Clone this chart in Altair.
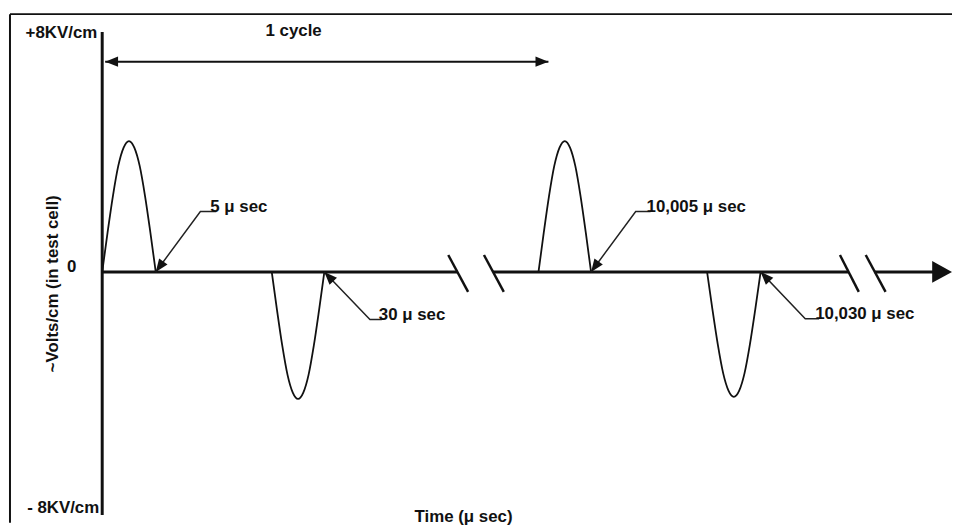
import altair as alt
import pandas as pd

# ---------------- data (x: position along the schematic time axis, y: kV/cm) ----------------
pulse_id = ["p1", "p2", "p3", "p4"]
pulse_start = [0, 171, 440, 610]
pulse_end = [54, 224, 493, 664]
pulse_peak = [4.4, -4.27, 4.4, -4.2]
# outline of one pulse (fraction of width -> fraction of peak)
profile_pos = [0, 0.1, 0.2, 0.3, 0.4, 0.5, 0.6, 0.7, 0.8, 0.9, 1.0]
profile_val = [0, 0.30, 0.58, 0.81, 0.95, 1.0, 0.95, 0.81, 0.58, 0.30, 0]

ylab_text = ["+8KV/cm", "0", "- 8KV/cm"]
ylab_x = [-5, -26, -3]
ylab_y = [8.03, 0.15, -7.93]

ann_text = ["5 \u03bc sec", "30 \u03bc sec", "10,005 \u03bc sec", "10,030 \u03bc sec"]
ann_tip_x = [54, 224, 493, 664]
ann_elbow_x = [99, 270, 538, 709]
ann_end_x = [115, 282, 553, 723]
ann_y = [2.03, -1.6, 2.03, -1.57]
ann_text_x = [109, 279, 549, 719]
ann_angle = [216, 316, 216, 316]

axis_seg_x = [0, 394, 779]
axis_seg_x2 = [358, 753, 840]
brk_x = [349, 385, 744, 770]
brk_x2 = [369, 405, 763, 790]
brk_y = [0.57, 0.57, 0.57, 0.57]
brk_y2 = [-0.67, -0.67, -0.67, -0.67]

cycle_x = [3, 450]
cycle_y = 7.07
cycle_label = "1 cycle"
cycle_label_x = 193
cycle_label_y = 8.1

frame_left = -93
frame_top = 8.667
y_bottom = -8.4333
yaxis_top = 8.07
yaxis_bottom = -8.167

xlabel = "Time (\u03bc sec)"
ylabel = "~Volts/cm (in test cell)"

# ---------------- tables ----------------
rows = []
for pid, s, e, pk in zip(pulse_id, pulse_start, pulse_end, pulse_peak):
    for i, (fp, fv) in enumerate(zip(profile_pos, profile_val)):
        rows.append({"id": pid, "o": i, "x": s + fp * (e - s), "y": fv * pk})
pulses = pd.DataFrame(rows)

rules = []
rules.append({"x": frame_left, "x2": 857, "y": frame_top, "y2": frame_top, "w": 2})
rules.append({"x": frame_left, "x2": frame_left, "y": frame_top, "y2": y_bottom, "w": 2})
rules.append({"x": 0, "x2": 0, "y": yaxis_top, "y2": yaxis_bottom, "w": 3})
for a, b in zip(axis_seg_x, axis_seg_x2):
    rules.append({"x": a, "x2": b, "y": 0, "y2": 0, "w": 3})
for a, b, c, d in zip(brk_x, brk_x2, brk_y, brk_y2):
    rules.append({"x": a, "x2": b, "y": c, "y2": d, "w": 2.5})
rules.append({"x": cycle_x[0], "x2": cycle_x[1], "y": cycle_y, "y2": cycle_y, "w": 2})
rules = pd.DataFrame(rules)

lead = []
for k, (t, el, en, yy) in enumerate(zip(ann_tip_x, ann_elbow_x, ann_end_x, ann_y)):
    lead += [{"id": k, "o": 0, "x": t, "y": 0}, {"id": k, "o": 1, "x": el, "y": yy},
             {"id": k, "o": 2, "x": en, "y": yy}]
lead = pd.DataFrame(lead)

heads = pd.DataFrame(
    [{"x": t, "y": 0, "a": a} for t, a in zip(ann_tip_x, ann_angle)]
    + [{"x": cycle_x[0], "y": cycle_y, "a": 270}, {"x": cycle_x[1], "y": cycle_y, "a": 90}]
)
bighead = pd.DataFrame([{"x": 857, "y": 0, "a": 90}])

labels = pd.DataFrame({"x": ylab_x, "y": ylab_y, "t": ylab_text})
ann = pd.DataFrame({"x": ann_text_x, "y": ann_y, "t": ann_text})
cyc = pd.DataFrame({"x": [cycle_label_x], "y": [cycle_label_y], "t": [cycle_label]})
xl = pd.DataFrame({"x": [315], "y": [-8.233], "t": [xlabel]})
yl = pd.DataFrame({"x": [-50], "y": [-0.4], "t": [ylabel]})

X = alt.X("x:Q", scale=alt.Scale(domain=[-95, 857], nice=False, zero=False), axis=None)
Y = alt.Y("y:Q", scale=alt.Scale(domain=[y_bottom, 8.8], nice=False, zero=False), axis=None)
FONT = "Liberation Sans"
INK = "#111111"

l_rules = alt.Chart(rules).mark_rule(color=INK).encode(
    x=X, y=Y, x2="x2:Q", y2="y2:Q", strokeWidth=alt.StrokeWidth("w:Q", scale=None))
l_pulses = alt.Chart(pulses).mark_line(color=INK, strokeWidth=1.8, interpolate="monotone").encode(
    x=X, y=Y, detail="id:N", order="o:Q")
l_lead = alt.Chart(lead).mark_line(color="#222222", strokeWidth=1.5).encode(
    x=X, y=Y, detail="id:N", order="o:Q")
l_heads = alt.Chart(heads).mark_point(
    shape="M0,0L-0.4,1L0.4,1Z", size=676, filled=True, color=INK, opacity=1, strokeWidth=0
).encode(x=X, y=Y, angle=alt.Angle("a:Q", scale=None))
l_big = alt.Chart(bighead).mark_point(
    shape="M0,0L-1.1,2L1.1,2Z", size=400, filled=True, color=INK, opacity=1, strokeWidth=0
).encode(x=X, y=Y, angle=alt.Angle("a:Q", scale=None))

txt = dict(font=FONT, fontSize=17, fontWeight="bold", color=INK)
l_ylabs = alt.Chart(labels).mark_text(align="right", baseline="middle", **txt).encode(x=X, y=Y, text="t:N")
l_ann = alt.Chart(ann).mark_text(align="left", baseline="alphabetic", **txt).encode(x=X, y=Y, text="t:N")
l_cyc = alt.Chart(cyc).mark_text(align="center", baseline="middle", **txt).encode(x=X, y=Y, text="t:N")
l_xl = alt.Chart(xl).mark_text(align="left", baseline="middle", **txt).encode(x=X, y=Y, text="t:N")
l_yl = alt.Chart(yl).mark_text(align="center", baseline="middle", angle=270, **txt).encode(x=X, y=Y, text="t:N")

chart = alt.layer(
    l_rules, l_pulses, l_lead, l_heads, l_big, l_ylabs, l_ann, l_cyc, l_xl, l_yl
).properties(
    width=952, height=517, autosize=alt.AutoSizeParams(type="none"), padding=0, background="white"
).configure_view(stroke=None)

chart.save("out.html", embed_options={"renderer": "svg", "actions": False})
